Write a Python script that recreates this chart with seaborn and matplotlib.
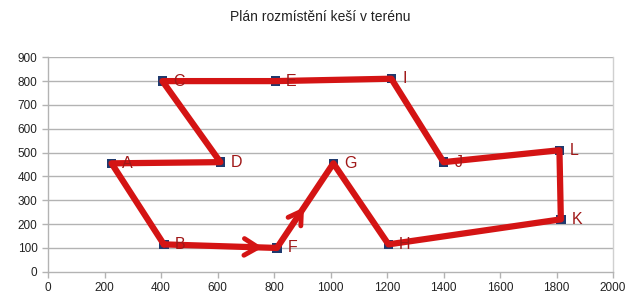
import matplotlib
matplotlib.use("Agg")
import matplotlib.pyplot as plt
import seaborn as sns
import pandas as pd

# Data
labels = ["A", "B", "C", "D", "E", "F", "G", "H", "I", "J", "K", "L"]
xs = [225, 410, 405, 610, 805, 810, 1010, 1205, 1215, 1400, 1815, 1810]
ys = [455, 115, 800, 460, 800, 100, 455, 115, 810, 460, 220, 510]
path_order = ["B", "F", "G", "H", "K", "L", "J", "I", "E", "C", "D", "A", "B"]
title = "Plán rozmístění keší v terénu"
xticks = list(range(0, 2001, 200))
yticks = list(range(0, 901, 100))

sns.set_style("white")
plt.rcParams["font.family"] = ["Liberation Sans", "DejaVu Sans"]

df = pd.DataFrame({"label": labels, "x": xs, "y": ys})
pos = dict(zip(labels, zip(xs, ys)))
path = pd.DataFrame({"x": [pos[p][0] for p in path_order],
                     "y": [pos[p][1] for p in path_order],
                     "step": range(len(path_order))})

fig = plt.figure(figsize=(6.4, 3.03), dpi=100)
ax = fig.add_axes([0.075, 0.103, 0.883, 0.708])

grid_c = "#b3b3b3"
for yt in yticks[1:]:
    ax.axhline(yt, color=grid_c, lw=1, zorder=0)

sns.scatterplot(data=df, x="x", y="y", marker="s", s=45, color="#1f3a6e",
                edgecolor="none", ax=ax, zorder=2)
for lab, x, y in zip(labels, xs, ys):
    ax.text(x + 38, y, lab, color="#a01818", fontsize=11.5, va="center", ha="left", zorder=4)

red = "#d41414"
sns.lineplot(data=path, x="x", y="y", sort=False, estimator=None, color=red,
             lw=4.5, ax=ax, zorder=3)

# arrowheads
bx, by = pos["B"]; fx, fy = pos["F"]; gx, gy = pos["G"]
t = 0.9
ax.annotate("", xy=(bx + (fx - bx) * t, by + (fy - by) * t),
            xytext=(bx + (fx - bx) * (t - 0.05), by + (fy - by) * (t - 0.05)),
            arrowprops=dict(arrowstyle="->,head_length=1.0,head_width=0.6", color=red,
                            lw=3.5), zorder=3)
t = 0.48
ax.annotate("", xy=(fx + (gx - fx) * t, fy + (gy - fy) * t),
            xytext=(fx + (gx - fx) * (t - 0.05), fy + (gy - fy) * (t - 0.05)),
            arrowprops=dict(arrowstyle="->,head_length=0.9,head_width=0.55", color=red,
                            lw=3.5), zorder=3)

ax.set_xlim(0, 2000)
ax.set_ylim(0, 900)
ax.set_xticks(xticks)
ax.set_yticks(yticks)
ax.set_xlabel("")
ax.set_ylabel("")
ax.tick_params(axis="both", labelsize=8.5, colors=grid_c, labelcolor="#222222",
               length=4, width=1, direction="out", bottom=True, left=True)
for side in ["left", "bottom", "right"]:
    ax.spines[side].set_color(grid_c)
    ax.spines[side].set_linewidth(1)
ax.spines["top"].set_visible(False)
ax.spines["right"].set_color("#d0d0d0")

fig.text(0.5, 0.945, title, ha="center", va="center", fontsize=10, color="#222222")
fig.savefig("out.png", dpi=100)
